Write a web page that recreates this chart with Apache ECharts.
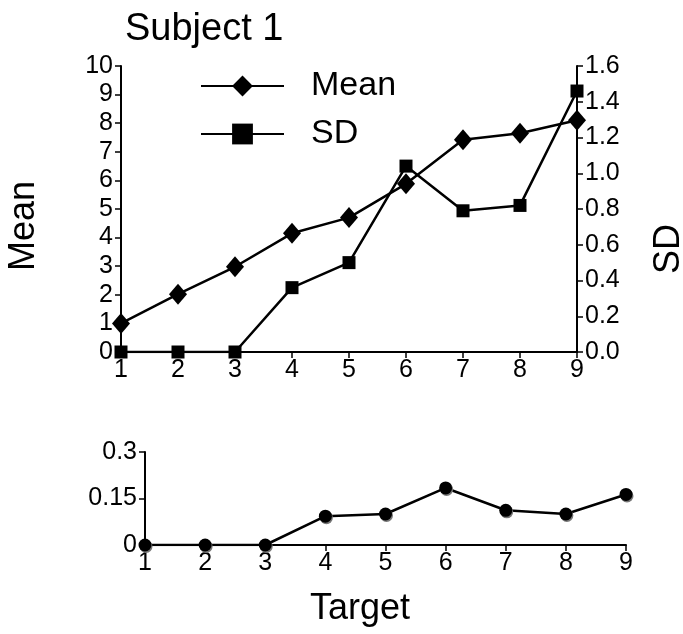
<!DOCTYPE html>
<html>
<head>
<meta charset="utf-8">
<script src="https://cdn.jsdelivr.net/npm/echarts@6/dist/echarts.min.js"></script>
<style>
  html, body { margin: 0; padding: 0; background: #fff; }
  #chart { width: 683px; height: 634px; }
</style>
</head>
<body>
<div id="chart"></div>
<script>
// 数据
var targets = ['1', '2', '3', '4', '5', '6', '7', '8', '9'];
var meanValues = [1.0, 2.02, 2.98, 4.15, 4.7, 5.88, 7.42, 7.65, 8.1];
var sdValues = [0, 0, 0, 0.36, 0.5, 1.04, 0.79, 0.82, 1.46];
var lowerValues = [0, 0, 0, 0.093, 0.1, 0.184, 0.112, 0.1, 0.163];

var font = 'Liberation Sans, Arial, sans-serif';
var tickFont = 25;

var myChart = echarts.init(document.getElementById('chart'));

// 通用轴样式
function axisBase() {
    return {
        axisLine: { show: true, lineStyle: { color: '#000', width: 2 } },
        axisTick: { show: true, length: 6, lineStyle: { color: '#000', width: 1.5 } },
        axisLabel: { color: '#000', fontSize: tickFont, fontFamily: font },
        splitLine: { show: false }
    };
}

// 轴标题文字
function titleText(text, x, y, rot, size) {
    return {
        type: 'text',
        x: x,
        y: y,
        rotation: rot,
        style: {
            text: text,
            fill: '#000',
            font: size + 'px ' + font,
            align: 'center',
            verticalAlign: 'middle'
        }
    };
}

var option = {
    backgroundColor: '#fff',
    animation: false,
    title: {
        text: 'Subject 1',
        left: 120,
        top: 6,
        textStyle: { color: '#000', fontSize: 38, fontWeight: 'normal', fontFamily: font }
    },
    legend: {
        data: ['Mean', 'SD'],
        orient: 'vertical',
        left: 200,
        top: 69,
        padding: 0,
        itemWidth: 83,
        itemHeight: 26,
        itemGap: 14,
        textStyle: { color: '#000', fontSize: 34, fontFamily: font, padding: [0, 0, 0, 22] }
    },
    graphic: [
        titleText('Mean', 24, 226, Math.PI / 2, 36),
        titleText('SD', 669, 249, Math.PI / 2, 36),
        titleText('Target', 360, 609, 0, 36)
    ],
    grid: [
        { left: 121, right: 106, top: 66, bottom: 282, outerBoundsMode: 'none' },
        { left: 145, right: 57, top: 452, bottom: 89, outerBoundsMode: 'none' }
    ],
    xAxis: [
        Object.assign(axisBase(), {
            type: 'category',
            gridIndex: 0,
            data: targets,
            boundaryGap: false,
            axisLabel: { color: '#000', fontSize: tickFont, fontFamily: font, margin: 6, interval: 0 },
            axisTick: { show: true, length: 6, interval: 0, lineStyle: { color: '#000', width: 1.5 } }
        }),
        Object.assign(axisBase(), {
            type: 'category',
            gridIndex: 1,
            data: targets,
            boundaryGap: false,
            axisLabel: { color: '#000', fontSize: tickFont, fontFamily: font, margin: 6, interval: 0 },
            axisTick: { show: true, length: 6, interval: 0, lineStyle: { color: '#000', width: 1.5 } }
        })
    ],
    yAxis: [
        Object.assign(axisBase(), {
            type: 'value',
            gridIndex: 0,
            min: 0,
            max: 10,
            interval: 1
        }),
        Object.assign(axisBase(), {
            type: 'value',
            gridIndex: 0,
            position: 'right',
            min: 0,
            max: 1.6,
            interval: 0.2,
            axisLabel: {
                color: '#000', fontSize: tickFont, fontFamily: font,
                formatter: function (v) { return v.toFixed(1); }
            }
        }),
        Object.assign(axisBase(), {
            type: 'value',
            gridIndex: 1,
            min: 0,
            max: 0.3,
            interval: 0.15
        })
    ],
    series: [
        {
            name: 'Mean',
            type: 'line',
            xAxisIndex: 0,
            yAxisIndex: 0,
            data: meanValues,
            symbol: 'diamond',
            symbolSize: [18, 21],
            lineStyle: { color: '#000', width: 2.5 },
            itemStyle: { color: '#000' },
            z: 3
        },
        {
            name: 'SD',
            type: 'line',
            xAxisIndex: 0,
            yAxisIndex: 1,
            data: sdValues,
            symbol: 'rect',
            symbolSize: 13,
            lineStyle: { color: '#000', width: 2.5 },
            itemStyle: { color: '#000' },
            z: 4
        },
        {
            name: 'lower',
            type: 'line',
            xAxisIndex: 1,
            yAxisIndex: 2,
            data: lowerValues,
            symbol: 'circle',
            symbolSize: 13,
            lineStyle: { color: '#000', width: 2.5 },
            itemStyle: { color: '#000', shadowColor: '#777', shadowOffsetX: 1, shadowOffsetY: 1.5, shadowBlur: 0 }
        }
    ]
};

myChart.setOption(option);
</script>
</body>
</html>
